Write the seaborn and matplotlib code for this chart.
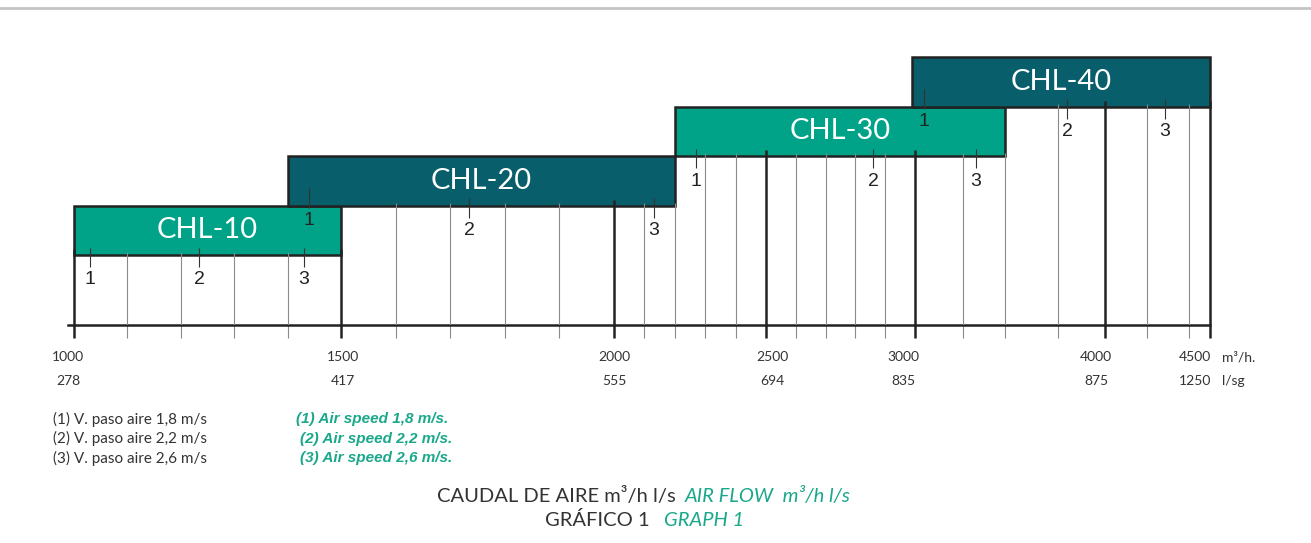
import numpy as np
import matplotlib.pyplot as plt
import seaborn as sns
from matplotlib.lines import Line2D

# ================ DATA =======================================

models = ["CHL-10", "CHL-20", "CHL-30", "CHL-40"]
flow_start = [1000, 1400, 2200, 2990]		# m3/h
flow_end = [1500, 2200, 3475, 4500]
speed_marks = [[1030, 1235, 1430],			# (1) (2) (3) for each model
			   [1440, 1735, 2130],
			   [2270, 2860, 3320],
			   [3045, 3800, 4285]]
major_flow = [1000, 1500, 2000, 2500, 3000, 4000, 4500]
major_ls = ["278", "417", "555", "694", "835", "875", "1250"]
minor_flow = [1100, 1200, 1300, 1400, 1600, 1700, 1800, 1900, 2100, 2200, 2300,
			  2400, 2600, 2700, 2800, 2900, 3250, 3475, 3750, 4200, 4400]
legend_es = ["(1) V. paso aire 1,8 m/s", "(2) V. paso aire 2,2 m/s", "(3) V. paso aire 2,6 m/s"]
legend_en = ["(1) Air speed 1,8 m/s.", "(2) Air speed 2,2 m/s.", "(3) Air speed 2,6 m/s."]

# ================ LAYOUT / STYLE ==============================

W, H = 1311, 543
AXIS_KNOTS_PX = [74, 341, 614, 766, 915, 1105, 1210]	# the flow axis is not linear
TICK_DX = [-6, 2, 0, 6, -12, -9, -15]				# label nudges, px
GREEN, TEAL = "#00a388", "#085e6a"
DARK, GREY = "#222222", "#8a8a8a"
TXT = "#333333"
LGREEN = "#1aa88a"
BASE, STEP = 1.4, 0.99
PT = 0.72		# points per pixel at 100 dpi

sns.set_theme(style="ticks")
plt.rcParams['font.family'] = ['Lato', 'DejaVu Sans']

fk = np.array(major_flow, float)
pk = np.array(AXIS_KNOTS_PX, float)
lo = fk[0] - pk[0] * (fk[1] - fk[0]) / (pk[1] - pk[0])
hi = fk[-1] + (W - pk[-1]) * (fk[-1] - fk[-2]) / (pk[-1] - pk[-2])
fk = np.r_[lo, fk, hi]
pk = np.r_[0, pk, W]

def	fwd(v):
	return np.interp(v, fk, pk)

def	inv(p):
	return np.interp(p, pk, fk)

fig = plt.figure(figsize=(W / 100, H / 100), dpi=100)
fig.add_artist(Line2D([0, 1], [1 - 8 / H, 1 - 8 / H], transform=fig.transFigure,
					  color="#c4c4c4", lw=2))

ax = fig.add_axes([0, (H - 325) / H, 1, (325 - 40) / H])
ax.set_xscale('function', functions=(fwd, inv))
ax.set_xlim(lo, hi)
ax.set_ylim(0, 5.7)

bottoms = [BASE + i * STEP for i in range(len(models))]
colors = [GREEN, TEAL, GREEN, TEAL]

# ================ BARS =======================================

ax.barh(bottoms, np.array(flow_end) - np.array(flow_start), left=flow_start,
		height=STEP, align='edge', color=colors, edgecolor=DARK, linewidth=1.8,
		zorder=2)

for i, name in enumerate(models):
	xc = inv((fwd(flow_start[i]) + fwd(flow_end[i])) / 2)
	ax.text(xc, bottoms[i] + STEP / 2, name, ha='center', va='center',
			color='white', fontsize=21, zorder=5)

# ================ GRID LINES ==================================

def	top_at(x):
	"""Bottom of the lowest bar covering x"""
	return min(bottoms[i] for i in range(len(models)) if flow_start[i] <= x <= flow_end[i])

ax.vlines(minor_flow, 0, [top_at(x) + 0.06 for x in minor_flow], colors=GREY,
		  linewidth=0.8, zorder=3)
ax.vlines(major_flow, 0, [top_at(x) + 0.12 for x in major_flow], colors=DARK,
		  linewidth=1.8, zorder=3)

# ================ SPEED MARKS =================================

for i, marks in enumerate(speed_marks):
	for k, x in enumerate(marks):
		lower = any(bottoms[j] < bottoms[i] and flow_start[j] <= x <= flow_end[j]
					for j in range(len(models)))
		b = bottoms[i] + (0.2 if lower else 0)
		ax.vlines(x, b - 0.24, b + 0.15, colors="#333333", linewidth=0.8, zorder=4)
		ax.text(x, b - 0.5, str(k + 1), ha='center', va='center', fontsize=14,
				color=DARK, family=['Liberation Sans', 'DejaVu Sans'], zorder=5)

# ================ AXIS =======================================

sns.despine(ax=ax, left=True, top=True, right=True)
ax.spines['bottom'].set_bounds(inv(68), major_flow[-1])
ax.spines['bottom'].set_linewidth(1.8)
ax.spines['bottom'].set_color(DARK)
ax.set_yticks([])
ax.set_xticks(major_flow)
ax.set_xticks(minor_flow, minor=True)
ax.tick_params(axis='x', which='major', direction='out', length=9, width=1.8,
			   color=DARK, labelbottom=False)
ax.tick_params(axis='x', which='minor', direction='out', length=9, width=0.8,
			   color=GREY)

for x, ls, dx in zip(major_flow, major_ls, TICK_DX):
	for row, lab in enumerate([str(x), ls]):
		ax.annotate(lab, (x, 0), xytext=(dx * PT, -(32 + 24 * row) * PT),
					textcoords='offset points', ha='center', va='center',
					fontsize=10, color=TXT, annotation_clip=False)

fig.text(1222 / W, 1 - 357 / H, "m³/h.", fontsize=10, color=TXT, va='center')
fig.text(1222 / W, 1 - 381 / H, "l/sg", fontsize=10, color=TXT, va='center')

# ================ NOTES & TITLE ================================

for k, (es, en) in enumerate(zip(legend_es, legend_en)):
	y = 1 - (419 + k * 19.5) / H
	fig.text(53 / W, y, es, fontsize=11, color=TXT, va='center')
	fig.text((296 if k == 0 else 300) / W, y, en, fontsize=11, color=LGREEN,
			 va='center', style='italic', fontweight='bold',
			 family=['Liberation Sans', 'DejaVu Sans'])

fig.text(676 / W, 1 - 496 / H, "CAUDAL DE AIRE m³/h l/s", fontsize=14.5, color=TXT,
		 ha='right', va='center')
fig.text(685 / W, 1 - 496 / H, "AIR FLOW  m³/h l/s", fontsize=14.5, color=LGREEN,
		 ha='left', va='center', style='italic')
fig.text(650 / W, 1 - 520 / H, "GRÁFICO 1", fontsize=14.5, color=TXT,
		 ha='right', va='center')
fig.text(664 / W, 1 - 520 / H, "GRAPH 1", fontsize=14.5, color=LGREEN,
		 ha='left', va='center', style='italic')

fig.savefig("out.png", dpi=100)
